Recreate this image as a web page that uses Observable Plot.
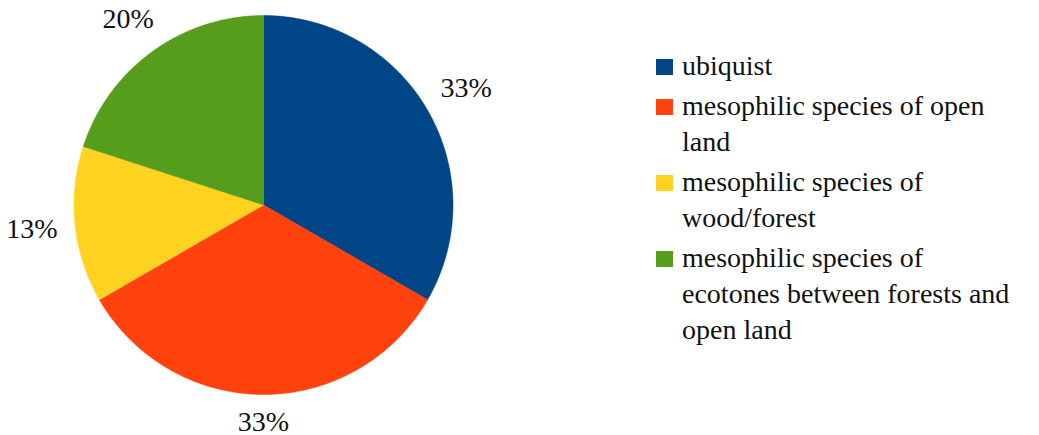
<!DOCTYPE html>
<html>
<head>
<meta charset="utf-8">
<script src="https://cdn.jsdelivr.net/npm/d3@7"></script>
<script src="https://cdn.jsdelivr.net/npm/@observablehq/plot@0.6"></script>
<style>
  html, body { margin: 0; padding: 0; background: #fff; }
  #wrap { position: relative; width: 1039px; height: 435px; font-family: "Liberation Serif", Tinos, "DejaVu Serif", serif; }
  #legend { position: absolute; left: 656px; top: 48px; width: 380px; font-size: 28px; line-height: 36px; color: #111; }
  .item { display: flex; align-items: flex-start; margin-bottom: 4px; }
  .sw { width: 17px; height: 16px; margin-top: 11px; margin-right: 9px; flex: none; }
  .lbl { white-space: nowrap; }
</style>
</head>
<body>
<div id="wrap"></div>
<script>
// Data
const categories = [
  "ubiquist",
  "mesophilic species of open land",
  "mesophilic species of wood/forest",
  "mesophilic species of ecotones between forests and open land"
];
// legend text as wrapped in the original
const legendLines = [
  ["ubiquist"],
  ["mesophilic species of open", "land"],
  ["mesophilic species of", "wood/forest"],
  ["mesophilic species of", "ecotones between forests and", "open land"]
];
const counts = [5, 5, 2, 3];
const colors = ["#004586", "#ff420e", "#ffd320", "#579d1c"];

const total = d3.sum(counts);
const arcs = d3.pie().sort(null).value((d) => d.value)(
  categories.map((c, i) => ({cat: c, value: counts[i]}))
);

// slice outlines in unit-circle coordinates
const slicePoints = arcs.flatMap((a) => {
  const n = Math.max(2, Math.ceil((a.endAngle - a.startAngle) / (Math.PI / 360)));
  const pts = [{cat: a.data.cat, x: 0, y: 0}];
  for (let k = 0; k <= n; ++k) {
    const t = a.startAngle + (a.endAngle - a.startAngle) * k / n;
    pts.push({cat: a.data.cat, x: Math.sin(t), y: Math.cos(t)});
  }
  pts.push({cat: a.data.cat, x: 0, y: 0});
  return pts;
});

// labels placed just outside the rim, offset by half the label box
const labels = arcs.map((a) => {
  const m = (a.startAngle + a.endAngle) / 2;
  const r = 1.087 + 0.137 * Math.abs(Math.sin(m)) + 0.058 * Math.abs(Math.cos(m));
  return {
    text: Math.round(a.data.value / total * 100) + "%",
    x: Math.sin(m) * r,
    y: Math.cos(m) * r
  };
});

const chart = Plot.plot({
  width: 1039,
  height: 435,
  marginLeft: 73.5,
  marginRight: 586.5,
  marginTop: 15,
  marginBottom: 41,
  x: {domain: [-1, 1], axis: null},
  y: {domain: [-1, 1], axis: null},
  color: {domain: categories, range: colors},
  style: {fontFamily: "'Liberation Serif', Tinos, 'DejaVu Serif', serif", background: "white", overflow: "visible"},
  marks: [
    Plot.line(slicePoints, {x: "x", y: "y", z: "cat", fill: "cat", stroke: "cat", strokeWidth: 0.5, curve: "linear"}),
    Plot.text(labels, {x: "x", y: "y", text: "text", fontSize: 28, fill: "#111", textAnchor: "middle", lineAnchor: "middle"})
  ]
});

const wrap = document.getElementById("wrap");
wrap.appendChild(chart);

const legend = document.createElement("div");
legend.id = "legend";
categories.forEach((c, i) => {
  const item = document.createElement("div");
  item.className = "item";
  const sw = document.createElement("div");
  sw.className = "sw";
  sw.style.background = colors[i];
  const lbl = document.createElement("div");
  lbl.className = "lbl";
  legendLines[i].forEach((line, j) => {
    if (j > 0) lbl.appendChild(document.createElement("br"));
    lbl.appendChild(document.createTextNode(line));
  });
  item.appendChild(sw);
  item.appendChild(lbl);
  legend.appendChild(item);
});
wrap.appendChild(legend);
</script>
</body>
</html>
